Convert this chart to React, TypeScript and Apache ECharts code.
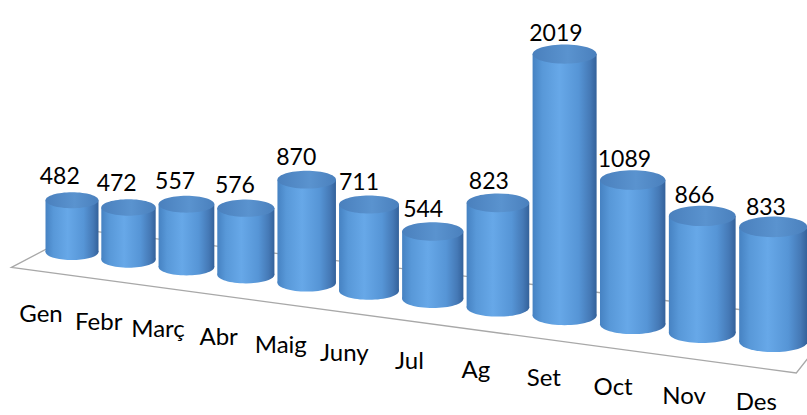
import React, { useEffect, useRef } from "react";
import * as echarts from "echarts";

const months = ["Gen", "Febr", "Març", "Abr", "Maig", "Juny", "Jul", "Ag", "Set", "Oct", "Nov", "Des"];
const visits = [482, 472, 557, 576, 870, 711, 544, 823, 2019, 1089, 866, 833];
const valueMax = 2350;

// empirical perspective model for the 3D look
const P = {
  grow: 0.026, // scale growth per category
  spread: 0.725, // extra horizontal spread (quadratic)
  drop: 7.39, // floor drop per category
  curve: 0.07,
  rx: 26.5,
  ry: 8,
  depthL: [35, -19],
  depthR: [21, -25.5],
  last: 11,
};

function project(fx: number, fy0: number, k: number, d: number) {
  const cx = fx + P.spread * k * (k - 1);
  const cy = fy0 + P.drop * k + P.curve * k * k;
  const t = k / P.last;
  const dx = P.depthL[0] + (P.depthR[0] - P.depthL[0]) * t;
  const dy = P.depthL[1] + (P.depthR[1] - P.depthL[1]) * t;
  return [cx + d * dx, cy + d * dy, dx, dy];
}

function bodyFill() {
  return new echarts.graphic.LinearGradient(0, 0, 1, 0, [
    { offset: 0, color: "#4682c2" },
    { offset: 0.15, color: "#5898d8" },
    { offset: 0.42, color: "#67a8e8" },
    { offset: 0.72, color: "#5695d6" },
    { offset: 0.9, color: "#4579b6" },
    { offset: 1, color: "#33619a" },
  ]);
}
function topFill() {
  return new echarts.graphic.LinearGradient(0, 0, 1, 0, [
    { offset: 0, color: "#4a80bd" },
    { offset: 0.55, color: "#5a93cf" },
    { offset: 1, color: "#4a80bd" },
  ]);
}

const FONT = "Lato, 'Open Sans', sans-serif";

export default function App() {
  const ref = useRef<HTMLDivElement>(null);
  useEffect(() => {
    const chart = echarts.init(ref.current!, null, { renderer: "svg" });

    const floorRender = (_params: any, api: any) => {
      const kL = -0.45;
      const kR = 11.6;
      const a = api.coord([kL, 0]);
      const b = api.coord([kR, 0]);
      const fl = project(a[0], a[1], kL, -1);
      const bl = project(a[0], a[1], kL, 1);
      const fr = project(b[0], b[1], kR, -1);
      const br = project(b[0], b[1], kR, 1);
      return {
        type: "polygon",
        shape: { points: [[fl[0], fl[1]], [bl[0], bl[1]], [br[0], br[1]], [fr[0], fr[1]]] },
        style: { fill: "#ffffff", stroke: "#a8a8a8", lineWidth: 1.3 },
      };
    };

    const cylRender = (_params: any, api: any) => {
      const k = api.value(0);
      const v = api.value(1);
      const base = api.coord([k, 0]);
      const topP = api.coord([k, v]);
      const s = 1 + P.grow * k;
      const [cx, cy, dx] = project(base[0], base[1], k, 0);
      const front = project(base[0], base[1], k, -1);
      const h = (base[1] - topP[1]) * s;
      const rx = P.rx * s;
      const ry = P.ry * s;
      const ty = cy - h;
      const gap = 17.5 - 0.6 * k;
      const labelY = Math.min(front[1] + 41.5 - 0.5 * k, 400);
      return {
        type: "group",
        children: [
          { type: "ellipse", shape: { cx, cy, rx, ry }, style: { fill: bodyFill() } },
          { type: "rect", shape: { x: cx - rx, y: ty, width: 2 * rx, height: h }, style: { fill: bodyFill() } },
          { type: "ellipse", shape: { cx, cy: ty, rx, ry }, style: { fill: topFill() } },
          {
            type: "text",
            x: cx - 0.35 * dx,
            y: ty - ry - gap,
            style: { text: String(v), fill: "#000", font: `23px ${FONT}`, align: "center", verticalAlign: "middle" },
          },
          {
            type: "text",
            x: front[0] + 4,
            y: labelY,
            style: { text: months[k], fill: "#000", font: `24px ${FONT}`, align: "center", verticalAlign: "middle" },
          },
        ],
      };
    };

    chart.setOption({
      animation: false,
      backgroundColor: "#ffffff",
      grid: { left: 43.75, width: 678, top: 0, height: 252 },
      xAxis: { type: "value", min: -0.5, max: 11.5, show: false },
      yAxis: { type: "value", min: 0, max: valueMax, show: false },
      series: [
        { type: "custom", data: [[0]], renderItem: floorRender, silent: true, clip: false, z: 1 },
        {
          type: "custom",
          data: visits.map((v, i) => [i, v]),
          renderItem: cylRender,
          clip: false,
          z: 2,
        },
      ],
    });
    return () => chart.dispose();
  }, []);
  return <div ref={ref} style={{ position: "fixed", left: 0, top: 0, width: 807, height: 415 }} />;
}
